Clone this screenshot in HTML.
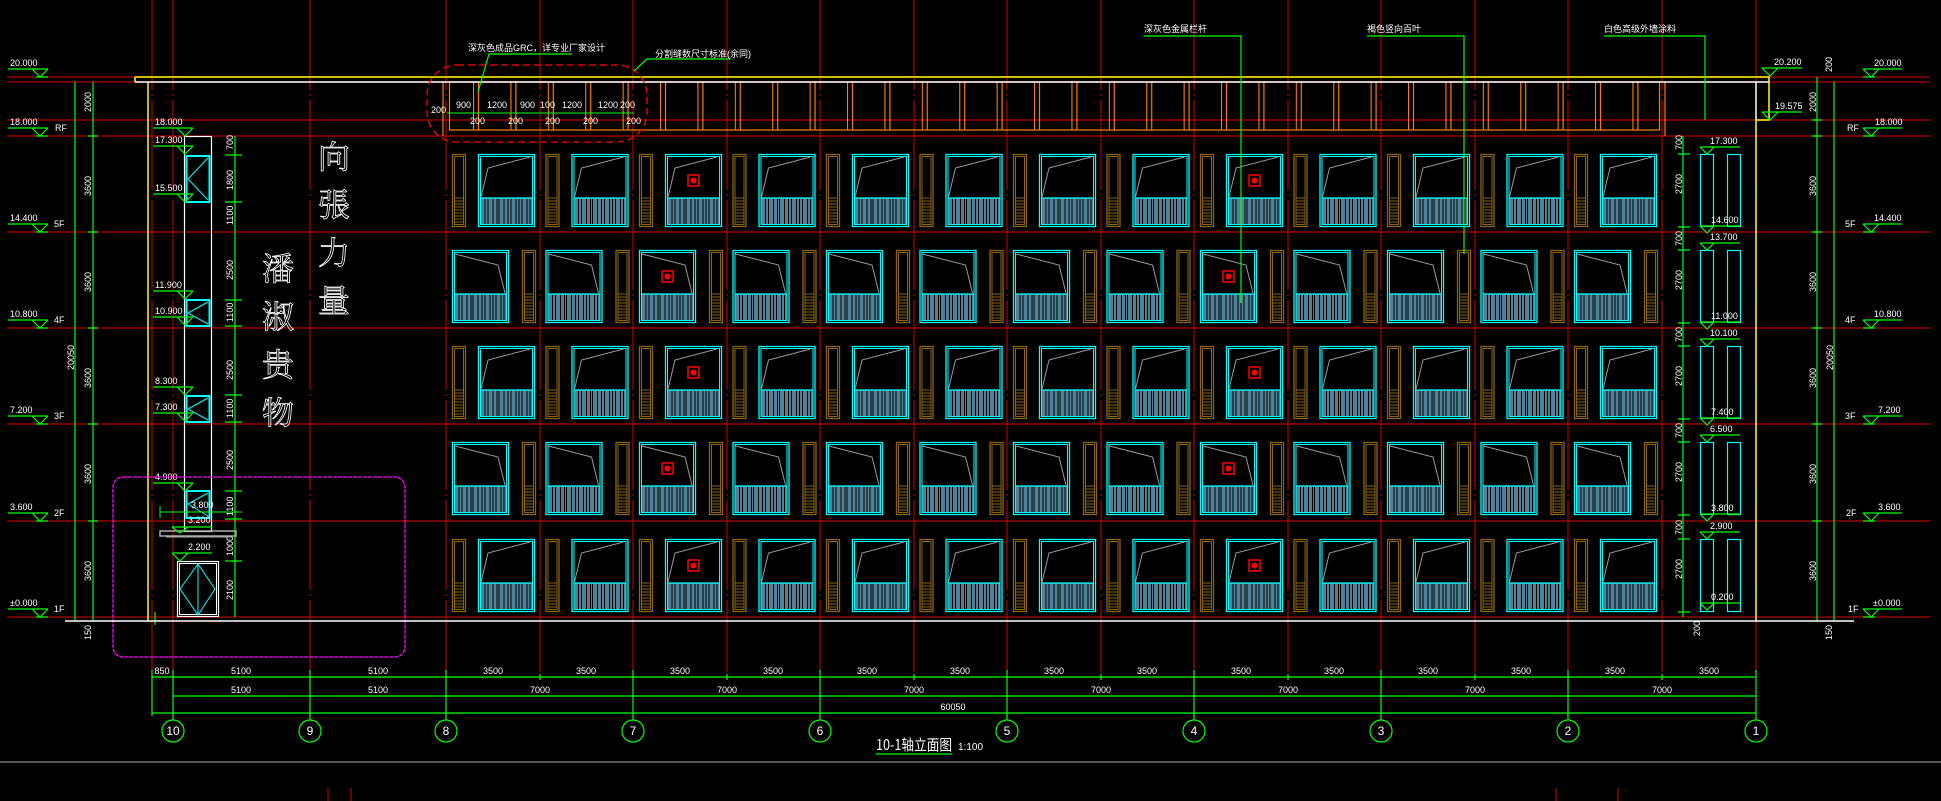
<!DOCTYPE html>
<html><head><meta charset="utf-8"><style>
html,body{margin:0;padding:0;background:#000;}
svg{display:block}
text{font-family:"Liberation Sans Narrow","Liberation Sans","Noto Sans CJK SC",sans-serif;fill:#fff;font-size:9px}
</style></head><body>
<svg width="1941" height="801" viewBox="0 0 1941 801" xmlns="http://www.w3.org/2000/svg">
<defs>
<pattern id="para" x="473" y="0" width="37.4" height="200" patternUnits="userSpaceOnUse">
<line x1="0.5" y1="0" x2="0.5" y2="200" stroke="#ff8000" stroke-width="1.2"/>
<line x1="5.5" y1="0" x2="5.5" y2="200" stroke="#ff8000" stroke-width="1.2"/>
</pattern>
<g id="steel">
<rect x="2" y="44" width="53" height="27" fill="#4f8299"/>
<line x1="2" y1="44" x2="55" y2="44" stroke="#0ff" stroke-width="1.2"/>
<path d="M7 45V71M10 45V71M15 45V71M19 45V71M21 45V71M26 45V71M30 45V71M33 45V71M38 45V71M41 45V71M44 45V71M49 45V71M52 45V71" stroke="#000" stroke-width="1"/>
</g>
<g id="winA">
<use href="#steel"/>
<rect x="0.5" y="0.5" width="56" height="72" fill="none" stroke="#0ff" stroke-width="1.3"/>
<rect x="2.5" y="2.5" width="52" height="68" fill="none" stroke="#0ff" stroke-width="1"/>
<polyline points="3,43 10,14 52,3" fill="none" stroke="#999" stroke-width="1"/>
</g>
<g id="winB">
<use href="#steel"/>
<rect x="0.5" y="0.5" width="56" height="72" fill="none" stroke="#0ff" stroke-width="1.3"/>
<rect x="2.5" y="2.5" width="52" height="68" fill="none" stroke="#0ff" stroke-width="1"/>
<polyline points="3,4 46,15 53,43" fill="none" stroke="#999" stroke-width="1"/>
</g>
<g id="pan">
<rect x="0.5" y="0.5" width="13" height="72" fill="none" stroke="#8b6510" stroke-width="1.3"/>
<rect x="2.5" y="2.5" width="9" height="68" fill="none" stroke="#8b6510" stroke-width="1"/>
<path d="M2 44H12M2 47H12M2 50H12M2 53H12M2 56H12M2 59H12M2 62H12M2 65H12M2 68H12" stroke="#8b6510" stroke-width="1"/>
</g>
<g id="ico"><rect x="0" y="0" width="11" height="11" fill="none" stroke="#f00" stroke-width="1.5"/><circle cx="5.5" cy="5.5" r="3" fill="#f00"/></g>
<g id="rowA">
<use href="#pan" x="452"/><use href="#winA" x="478"/>
<use href="#pan" x="545.5"/><use href="#winA" x="571.5"/>
<use href="#pan" x="639"/><use href="#winA" x="665"/><use href="#ico" x="688" y="21"/>
<use href="#pan" x="732.5"/><use href="#winA" x="758.5"/>
<use href="#pan" x="826"/><use href="#winA" x="852"/>
<use href="#pan" x="919.5"/><use href="#winA" x="945.5"/>
<use href="#pan" x="1013"/><use href="#winA" x="1039"/>
<use href="#pan" x="1106.5"/><use href="#winA" x="1132.5"/>
<use href="#pan" x="1200"/><use href="#winA" x="1226"/><use href="#ico" x="1249" y="21"/>
<use href="#pan" x="1293.5"/><use href="#winA" x="1319.5"/>
<use href="#pan" x="1387"/><use href="#winA" x="1413"/>
<use href="#pan" x="1480.5"/><use href="#winA" x="1506.5"/>
<use href="#pan" x="1574"/><use href="#winA" x="1600"/>
</g>
<g id="rowB">
<use href="#winB" x="452"/><use href="#pan" x="522"/>
<use href="#winB" x="545.5"/><use href="#pan" x="615.5"/>
<use href="#winB" x="639"/><use href="#pan" x="709"/><use href="#ico" x="662" y="21"/>
<use href="#winB" x="732.5"/><use href="#pan" x="802.5"/>
<use href="#winB" x="826"/><use href="#pan" x="896"/>
<use href="#winB" x="919.5"/><use href="#pan" x="989.5"/>
<use href="#winB" x="1013"/><use href="#pan" x="1083"/>
<use href="#winB" x="1106.5"/><use href="#pan" x="1176.5"/>
<use href="#winB" x="1200"/><use href="#pan" x="1270"/><use href="#ico" x="1223" y="21"/>
<use href="#winB" x="1293.5"/><use href="#pan" x="1363.5"/>
<use href="#winB" x="1387"/><use href="#pan" x="1457"/>
<use href="#winB" x="1480.5"/><use href="#pan" x="1550.5"/>
<use href="#winB" x="1574"/><use href="#pan" x="1644"/>
</g>
<g id="rside">
<rect x="1700.5" y="0.5" width="13" height="72" fill="none" stroke="#0ff" stroke-width="1.2"/>
<rect x="1727.5" y="0.5" width="13" height="72" fill="none" stroke="#0ff" stroke-width="1.2"/>
</g>
<g id="lvL"><path d="M0 0H40M24 0L32 8L40 0M28 8H40" stroke="#0f0" fill="none" stroke-width="1.2"/></g>
<g id="lvR"><path d="M0 0H39M0 0L8 8L16 0M0 8H12" stroke="#0f0" fill="none" stroke-width="1.2"/></g>
</defs>

<g stroke="#b00000" stroke-width="1.2">
<line x1="7" y1="77" x2="1930" y2="77"/><line x1="7" y1="82" x2="1930" y2="82"/>
<line x1="7" y1="120" x2="1930" y2="120"/><line x1="7" y1="136" x2="1930" y2="136"/>
<line x1="7" y1="232" x2="1930" y2="232"/><line x1="7" y1="328" x2="1930" y2="328"/>
<line x1="7" y1="424" x2="1930" y2="424"/><line x1="7" y1="521" x2="1930" y2="521"/>
<line x1="7" y1="617" x2="1930" y2="617"/>
</g>
<g stroke="#b00000" stroke-width="1.2" stroke-dasharray="90 4 2 4">
<line x1="152" y1="0" x2="152" y2="672"/><line x1="173" y1="0" x2="173" y2="672"/>
<line x1="310" y1="0" x2="310" y2="672"/><line x1="446" y1="0" x2="446" y2="672"/>
<line x1="540" y1="0" x2="540" y2="672"/><line x1="633" y1="0" x2="633" y2="672"/>
<line x1="727" y1="0" x2="727" y2="672"/><line x1="820" y1="0" x2="820" y2="672"/>
<line x1="914" y1="0" x2="914" y2="672"/><line x1="1007" y1="0" x2="1007" y2="672"/>
<line x1="1101" y1="0" x2="1101" y2="672"/><line x1="1194" y1="0" x2="1194" y2="672"/>
<line x1="1288" y1="0" x2="1288" y2="672"/><line x1="1381" y1="0" x2="1381" y2="672"/>
<line x1="1475" y1="0" x2="1475" y2="672"/><line x1="1568" y1="0" x2="1568" y2="672"/>
<line x1="1662" y1="0" x2="1662" y2="672"/><line x1="1756" y1="0" x2="1756" y2="672"/>
</g>

<rect x="449" y="82" width="1211" height="48" fill="url(#para)"/>
<rect x="449.5" y="82" width="1210" height="48" fill="none" stroke="#ff8000" stroke-width="1.2"/>
<line x1="443" y1="82" x2="443" y2="136" stroke="#ff8000" stroke-width="1.2"/>
<line x1="1665" y1="82" x2="1665" y2="136" stroke="#ff8000" stroke-width="1.2"/>
<path d="M135 77H1769V120H1756M135 77V82M148 82V621M1756 120V621" stroke="#ff0" fill="none" stroke-width="1.5"/>
<path d="M135 82H1769M1756 82V120" stroke="#fff" fill="none" stroke-width="1.5"/>
<line x1="447" y1="113" x2="634" y2="113" stroke="#0f0" stroke-width="1"/>
<g font-size="8">
<text x="431" y="113">200</text><text x="456" y="108">900</text><text x="487" y="108">1200</text><text x="520" y="108">900</text><text x="540" y="108">100</text><text x="562" y="108">1200</text><text x="598" y="108">1200</text><text x="620" y="108">200</text>
<text x="470" y="124">200</text><text x="508" y="124">200</text><text x="545" y="124">200</text><text x="583" y="124">200</text><text x="626" y="124">200</text>
</g>
<rect x="427" y="65" width="220" height="77" rx="30" fill="none" stroke="#f00" stroke-width="1.3" stroke-dasharray="7 4"/>

<use href="#rowA" y="154"/>
<use href="#rowB" y="250"/>
<use href="#rowA" y="346"/>
<use href="#rowB" y="442"/>
<use href="#rowA" y="539"/>
<use href="#rside" y="154"/><use href="#rside" y="250"/><use href="#rside" y="346"/><use href="#rside" y="442"/><use href="#rside" y="539"/>

<g stroke="#0f0" stroke-width="1.2" fill="none">
<line x1="1683" y1="136" x2="1683" y2="617"/>
<path d="M1678 154H1690M1678 227H1690M1678 250H1690M1678 323H1690M1678 346H1690M1678 419H1690M1678 442H1690M1678 515H1690M1678 539H1690M1678 612H1690"/>
<line x1="1817" y1="77" x2="1817" y2="621"/><line x1="1834" y1="82" x2="1834" y2="621"/>
<line x1="75" y1="82" x2="75" y2="621"/><line x1="93" y1="82" x2="93" y2="621"/>
<path d="M88 136H98M88 232H98M88 328H98M88 424H98M88 521H98M1812 120H1822M1812 136H1822M1812 232H1822M1812 328H1822M1812 424H1822M1812 521H1822"/>
<line x1="235" y1="136" x2="235" y2="617"/>
<path d="M225 155H242M225 202H242M225 300H242M225 326H242M225 395H242M225 422H242M225 491H242M225 519H242M225 561H242"/>
<line x1="155" y1="625" x2="155" y2="612"/>
</g>
<g fill="none" stroke="#0f0" stroke-width="1.2">
<path d="M1700 147H1740M1700 147L1707 154L1714 147"/><path d="M1700 226H1740M1700 226L1707 233L1714 226"/>
<path d="M1700 243H1740M1700 243L1707 250L1714 243"/><path d="M1700 322H1740M1700 322L1707 329L1714 322"/>
<path d="M1700 339H1740M1700 339L1707 346L1714 339"/><path d="M1700 418H1740M1700 418L1707 425L1714 418"/>
<path d="M1700 435H1740M1700 435L1707 442L1714 435"/><path d="M1700 514H1740M1700 514L1707 521L1714 514"/>
<path d="M1700 532H1740M1700 532L1707 539L1714 532"/><path d="M1700 603H1740M1700 603L1707 610L1714 603"/>
<path d="M1762 68H1802M1762 68L1770 76L1778 68"/><path d="M1762 112H1802M1762 112L1770 120L1778 112"/>
</g>
<g font-size="8">
<text x="1710" y="144">17.300</text><text x="1711" y="223">14.600</text><text x="1710" y="240">13.700</text><text x="1711" y="319">11.000</text>
<text x="1710" y="336">10.100</text><text x="1711" y="415">7.400</text><text x="1710" y="432">6.500</text><text x="1711" y="511">3.800</text>
<text x="1710" y="529">2.900</text><text x="1711" y="600">0.200</text>
<text x="1774" y="65">20.200</text><text x="1775" y="109">19.575</text>
</g>
<g font-size="8">
<text transform="translate(1682,194) rotate(-90)">2700</text><text transform="translate(1682,290) rotate(-90)">2700</text>
<text transform="translate(1682,386) rotate(-90)">2700</text><text transform="translate(1682,482) rotate(-90)">2700</text>
<text transform="translate(1682,579) rotate(-90)">2700</text>
<text transform="translate(1682,150) rotate(-90)">700</text><text transform="translate(1682,246) rotate(-90)">700</text>
<text transform="translate(1682,342) rotate(-90)">700</text><text transform="translate(1682,438) rotate(-90)">700</text><text transform="translate(1682,535) rotate(-90)">700</text>
<text transform="translate(1816,112) rotate(-90)">2000</text>
<text transform="translate(1816,196) rotate(-90)">3600</text><text transform="translate(1816,292) rotate(-90)">3600</text>
<text transform="translate(1816,388) rotate(-90)">3600</text><text transform="translate(1816,484) rotate(-90)">3600</text><text transform="translate(1816,581) rotate(-90)">3600</text>
<text transform="translate(1833,370) rotate(-90)">20050</text>
<text transform="translate(1832,72) rotate(-90)">200</text>
<text transform="translate(1832,640) rotate(-90)">150</text>
<text transform="translate(1700,636) rotate(-90)">200</text>
<text transform="translate(91,112) rotate(-90)">2000</text>
<text transform="translate(91,196) rotate(-90)">3600</text><text transform="translate(91,292) rotate(-90)">3600</text>
<text transform="translate(91,388) rotate(-90)">3600</text><text transform="translate(91,484) rotate(-90)">3600</text><text transform="translate(91,581) rotate(-90)">3600</text>
<text transform="translate(74,370) rotate(-90)">20050</text>
<text transform="translate(91,640) rotate(-90)">150</text>
<text transform="translate(233,150) rotate(-90)">700</text><text transform="translate(233,190) rotate(-90)">1800</text>
<text transform="translate(233,225) rotate(-90)">1100</text><text transform="translate(233,280) rotate(-90)">2500</text>
<text transform="translate(233,322) rotate(-90)">1100</text><text transform="translate(233,380) rotate(-90)">2500</text>
<text transform="translate(233,418) rotate(-90)">1100</text><text transform="translate(233,470) rotate(-90)">2500</text>
<text transform="translate(233,516) rotate(-90)">1100</text><text transform="translate(233,556) rotate(-90)">1000</text>
<text transform="translate(233,600) rotate(-90)">2100</text>
</g>

<use href="#lvL" x="8" y="69"/><use href="#lvL" x="8" y="128"/><use href="#lvL" x="8" y="224"/>
<use href="#lvL" x="8" y="320"/><use href="#lvL" x="8" y="416"/><use href="#lvL" x="8" y="513"/><use href="#lvL" x="8" y="609"/>
<g font-size="9">
<text x="10" y="66">20.000</text><text x="10" y="125">18.000</text><text x="10" y="221">14.400</text>
<text x="10" y="317">10.800</text><text x="10" y="413">7.200</text><text x="10" y="510">3.600</text><text x="10" y="606">±0.000</text>
<text x="55" y="131">RF</text><text x="54" y="227">5F</text><text x="54" y="323">4F</text><text x="54" y="419">3F</text><text x="54" y="516">2F</text><text x="54" y="612">1F</text>
</g>
<use href="#lvR" x="1863" y="69"/><use href="#lvR" x="1863" y="128"/><use href="#lvR" x="1863" y="224"/>
<use href="#lvR" x="1863" y="320"/><use href="#lvR" x="1863" y="416"/><use href="#lvR" x="1863" y="513"/><use href="#lvR" x="1863" y="609"/>
<g font-size="9">
<text x="1874" y="66">20.000</text><text x="1875" y="125">18.000</text><text x="1874" y="221">14.400</text>
<text x="1874" y="317">10.800</text><text x="1878" y="413">7.200</text><text x="1878" y="510">3.600</text><text x="1873" y="606">±0.000</text>
<text x="1847" y="131">RF</text><text x="1845" y="227">5F</text><text x="1845" y="323">4F</text><text x="1845" y="419">3F</text><text x="1846" y="516">2F</text><text x="1848" y="612">1F</text>
</g>

<rect x="184.5" y="136.5" width="27" height="395" fill="none" stroke="#fff" stroke-width="1.2"/>
<g stroke="#0ff" fill="none">
<rect x="186.5" y="156" width="23" height="46" stroke-width="2"/><path d="M188 179L208 158M188 179L208 200" stroke-width="1"/>
<rect x="186.5" y="300" width="23" height="26" stroke-width="2"/><path d="M188 313L208 302M188 313L208 324" stroke-width="1"/>
<rect x="186.5" y="396" width="23" height="26" stroke-width="2"/><path d="M188 409L208 398M188 409L208 420" stroke-width="1"/>
<rect x="186.5" y="491" width="23" height="27" stroke-width="2"/><path d="M188 504L208 493M188 504L208 516" stroke-width="1"/>
</g>
<path d="M160 531H236V536H160Z" fill="none" stroke="#aaa" stroke-width="1.5"/>
<line x1="166" y1="537" x2="231" y2="537" stroke="#aaa" stroke-width="1"/>
<line x1="160" y1="512" x2="242" y2="512" stroke="#0f0" stroke-width="1"/><line x1="160" y1="506" x2="160" y2="518" stroke="#0f0"/>
<rect x="177.5" y="561.5" width="41" height="55" fill="none" stroke="#fff" stroke-width="1.2"/>
<rect x="179.5" y="563.5" width="37" height="51" fill="none" stroke="#fff" stroke-width="1"/>
<path d="M198 564V615M198 564L215 589L198 615L180 589Z" fill="none" stroke="#0ff" stroke-width="1"/>
<g fill="none" stroke="#0f0" stroke-width="1.2">
<path d="M153 128H193M177 128L185 136L193 128"/><path d="M153 146H193M177 146L185 154L193 146"/>
<path d="M153 194H193M177 194L185 202L193 194"/><path d="M153 291H193M177 291L185 299L193 291"/>
<path d="M153 317H193M177 317L185 325L193 317"/><path d="M153 387H193M177 387L185 395L193 387"/>
<path d="M153 413H193M177 413L185 421L193 413"/><path d="M153 483H193M177 483L185 491L193 483"/>
<path d="M172 527H212M172 527L180 533L188 527"/><path d="M172 553H212M172 553L180 561L188 553"/>
</g>
<g font-size="8">
<text x="155" y="125">18.000</text><text x="155" y="143">17.300</text><text x="155" y="191">15.500</text>
<text x="155" y="288">11.900</text><text x="155" y="314">10.900</text><text x="155" y="384">8.300</text><text x="155" y="410">7.300</text>
<text x="155" y="480">4.900</text><text x="191" y="508">3.800</text><text x="188" y="523">3.200</text><text x="188" y="550">2.200</text>
</g>

<g stroke="#fff" stroke-width="0.8">
<text x="318" y="168" style="fill:none;font-size:32px;font-family:'Noto Serif CJK SC',serif">向</text>
<text x="318" y="216" style="fill:none;font-size:32px;font-family:'Noto Serif CJK SC',serif">張</text>
<text x="318" y="264" style="fill:none;font-size:32px;font-family:'Noto Serif CJK SC',serif">力</text>
<text x="318" y="312" style="fill:none;font-size:32px;font-family:'Noto Serif CJK SC',serif">量</text>
<text x="262" y="280" style="fill:none;font-size:32px;font-family:'Noto Serif CJK SC',serif">潘</text>
<text x="262" y="328" style="fill:none;font-size:32px;font-family:'Noto Serif CJK SC',serif">淑</text>
<text x="262" y="376" style="fill:none;font-size:32px;font-family:'Noto Serif CJK SC',serif">贵</text>
<text x="262" y="424" style="fill:none;font-size:32px;font-family:'Noto Serif CJK SC',serif">物</text>
</g>

<rect x="113" y="477" width="292" height="180" rx="10" fill="none" stroke="#f0f" stroke-width="1.3" stroke-dasharray="4 1"/>

<line x1="65" y1="621" x2="1854" y2="621" stroke="#fff" stroke-width="1.5"/>

<g stroke="#0f0" fill="none" stroke-width="1.2">
<path d="M572 54H489L478 92"/><path d="M731 59H647L634 71"/>
<path d="M1144 36H1241V303"/><path d="M1367 36H1464V254"/><path d="M1604 36H1705V120"/>
</g>
<g font-size="9" font-family="'Liberation Sans','Noto Sans CJK SC',sans-serif">
<text x="468" y="51">深灰色成品GRC，详专业厂家设计</text>
<text x="655" y="57">分割缝数尺寸标准(余同)</text>
<text x="1144" y="32">深灰色金属栏杆</text>
<text x="1367" y="32">褐色竖向百叶</text>
<text x="1604" y="32">白色高级外墙涂料</text>
</g>

<g stroke="#0f0" stroke-width="1.2" fill="none">
<line x1="152" y1="677" x2="1756" y2="677"/><line x1="173" y1="696" x2="1756" y2="696"/><line x1="152" y1="713" x2="1756" y2="713"/>
<path d="M152 670V716M173 670V720M310 670V720M446 670V720M633 670V720M820 670V720M1007 670V720M1194 670V720M1381 670V720M1568 670V720M1756 670V720"/>
<path d="M540 674V680M727 674V680M914 674V680M1101 674V680M1288 674V680M1475 674V680M1662 674V680"/>
<circle cx="173" cy="731" r="11"/><circle cx="310" cy="731" r="11"/><circle cx="446" cy="731" r="11"/>
<circle cx="633" cy="731" r="11"/><circle cx="820" cy="731" r="11"/><circle cx="1007" cy="731" r="11"/>
<circle cx="1194" cy="731" r="11"/><circle cx="1381" cy="731" r="11"/><circle cx="1568" cy="731" r="11"/><circle cx="1756" cy="731" r="11"/>
</g>
<g text-anchor="middle">
<text x="173" y="735" style="font-size:12px">10</text><text x="310" y="735" style="font-size:12px">9</text><text x="446" y="735" style="font-size:12px">8</text><text x="633" y="735" style="font-size:12px">7</text>
<text x="820" y="735" style="font-size:12px">6</text><text x="1007" y="735" style="font-size:12px">5</text><text x="1194" y="735" style="font-size:12px">4</text><text x="1381" y="735" style="font-size:12px">3</text>
<text x="1568" y="735" style="font-size:12px">2</text><text x="1756" y="735" style="font-size:12px">1</text>
</g>
<g font-size="8" text-anchor="middle">
<text x="162" y="674">850</text><text x="241" y="674">5100</text><text x="378" y="674">5100</text>
<text x="493" y="674">3500</text><text x="586" y="674">3500</text><text x="680" y="674">3500</text><text x="773" y="674">3500</text>
<text x="867" y="674">3500</text><text x="960" y="674">3500</text><text x="1054" y="674">3500</text><text x="1147" y="674">3500</text>
<text x="1241" y="674">3500</text><text x="1334" y="674">3500</text><text x="1428" y="674">3500</text><text x="1521" y="674">3500</text>
<text x="1615" y="674">3500</text><text x="1709" y="674">3500</text>
<text x="241" y="693">5100</text><text x="378" y="693">5100</text>
<text x="540" y="693">7000</text><text x="727" y="693">7000</text><text x="914" y="693">7000</text><text x="1101" y="693">7000</text>
<text x="1288" y="693">7000</text><text x="1475" y="693">7000</text><text x="1662" y="693">7000</text>
<text x="953" y="710">60050</text>
</g>

<text x="876" y="750" textLength="76" lengthAdjust="spacingAndGlyphs" style="font-family:'Liberation Sans Narrow','Noto Sans CJK SC',sans-serif;font-size:15px">10-1轴立面图</text>
<text x="958" y="750" style="font-size:10px">1:100</text>
<line x1="876" y1="754" x2="952" y2="754" stroke="#0f0" stroke-width="1.2"/>
<line x1="0" y1="762" x2="1941" y2="762" stroke="#888" stroke-width="1.2"/>
<g stroke="#b00000" stroke-width="1.2"><line x1="328" y1="788" x2="328" y2="801"/><line x1="351" y1="788" x2="351" y2="801"/><line x1="1556" y1="788" x2="1556" y2="801"/><line x1="1618" y1="788" x2="1618" y2="801"/></g>
</svg>
</body></html>
